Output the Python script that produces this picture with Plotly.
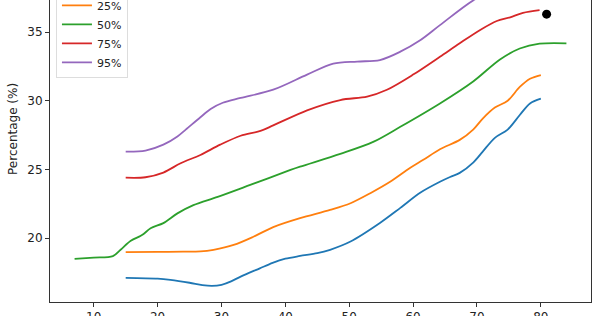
import plotly.graph_objects as go

# ---- data ----
p5_x = [15, 20, 22, 25, 27, 28.5, 30, 31.5, 33, 36, 38, 40, 42.3, 45, 47, 50.2, 54.8, 58, 61.1, 64.2, 65.8, 67.3, 69.4, 70.9, 72.8, 74.8, 76.7, 78.3, 80]
p5_y = [17.11, 17.05, 16.96, 16.75, 16.58, 16.52, 16.6, 16.85, 17.2, 17.8, 18.2, 18.5, 18.7, 18.9, 19.15, 19.75, 21.1, 22.2, 23.3, 24.1, 24.45, 24.75, 25.5, 26.3, 27.3, 27.9, 28.96, 29.8, 30.15]

p25_x = [15, 20, 24, 26.7, 28.75, 31.9, 35, 38.1, 42.3, 47, 50.2, 53.3, 56.4, 59.5, 61.6, 64.2, 67.3, 69.4, 70.9, 72.8, 74.8, 76.7, 78.3, 80]
p25_y = [18.98, 19.0, 19.01, 19.03, 19.15, 19.5, 20.1, 20.8, 21.45, 22.05, 22.54, 23.27, 24.1, 25.1, 25.7, 26.47, 27.15, 27.9, 28.7, 29.5, 30.0, 31.0, 31.6, 31.87]

p50_x = [7, 10, 13, 14.2, 15.8, 17.3, 17.8, 18.9, 20.9, 23.1, 25.6, 29.4, 34.5, 40.8, 42.3, 48.6, 53.75, 58, 64.2, 69.4, 73.6, 76.7, 79.8, 84]
p50_y = [18.49, 18.58, 18.69, 19.15, 19.8, 20.15, 20.3, 20.72, 21.09, 21.8, 22.4, 23.0, 23.87, 24.96, 25.2, 26.13, 27.0, 28.1, 29.8, 31.4, 33.0, 33.8, 34.15, 34.18]

p75_x = [15, 18.1, 20.9, 23.6, 26.7, 29.8, 33, 36.1, 38.1, 43.4, 48.6, 52.8, 55.9, 60, 64.2, 67.3, 70.5, 73.1, 75.2, 77.2, 79.8]
p75_y = [24.4, 24.43, 24.77, 25.45, 26.05, 26.8, 27.45, 27.8, 28.2, 29.3, 30.05, 30.3, 30.8, 31.9, 33.2, 34.18, 35.15, 35.8, 36.07, 36.4, 36.6]

p95_x = [15, 18.1, 20.9, 23.1, 24.4, 26.7, 28.3, 30.2, 33, 38.1, 43.4, 47.5, 51.25, 54.8, 58, 61.1, 64.2, 69.4, 74, 80]
p95_y = [26.3, 26.37, 26.8, 27.4, 27.9, 28.8, 29.4, 29.85, 30.2, 30.8, 31.9, 32.7, 32.85, 32.96, 33.57, 34.4, 35.5, 37.3, 38.4, 39.2]

dot_x = [80.9]
dot_y = [36.3]

names = ["5%", "25%", "50%", "75%", "95%"]
colors = ["#1f77b4", "#ff7f0e", "#2ca02c", "#d62728", "#9467bd"]
series = [(p5_x, p5_y), (p25_x, p25_y), (p50_x, p50_y), (p75_x, p75_y), (p95_x, p95_y)]

fig = go.Figure()
for (xs, ys), n, c in zip(series, names, colors):
    fig.add_trace(go.Scatter(x=xs, y=ys, mode="lines", name=n,
                             line=dict(color=c, width=1.8, shape="spline", smoothing=0.9)))
fig.add_trace(go.Scatter(x=dot_x, y=dot_y, mode="markers", showlegend=False,
                         marker=dict(color="black", size=9)))

fig.update_layout(
    width=600, height=316,
    margin=dict(l=50, r=9, t=0, b=14, autoexpand=False),
    paper_bgcolor="white", plot_bgcolor="white",
    font=dict(family="DejaVu Sans", size=12, color="#222"),
    legend=dict(x=0.011, y=1.0965, xanchor="left", yanchor="top",
                bgcolor="rgba(255,255,255,0.85)", bordercolor="#ddd", borderwidth=1,
                font=dict(size=11), tracegroupgap=0, itemwidth=30),
    showlegend=True,
    annotations=[dict(text="Percentage (%)", textangle=-90, showarrow=False,
                      xref="paper", yref="paper", x=-0.0684, y=0.573,
                      xanchor="center", yanchor="middle", font=dict(size=12))],
)
fig.update_xaxes(range=[3.15, 87.85], showgrid=False, zeroline=False,
                 showline=True, linecolor="#333", linewidth=1, mirror=False,
                 ticks="outside", ticklen=4, tickcolor="#333",
                 tickvals=[10, 20, 30, 40, 50, 60, 70, 80])
fig.update_yaxes(range=[15.35, 37.33], showgrid=False, zeroline=False,
                 showline=True, linecolor="#333", linewidth=1, mirror=True,
                 ticks="outside", ticklen=4, tickcolor="#333",
                 tickvals=[20, 25, 30, 35])

fig.write_html("out.html")
